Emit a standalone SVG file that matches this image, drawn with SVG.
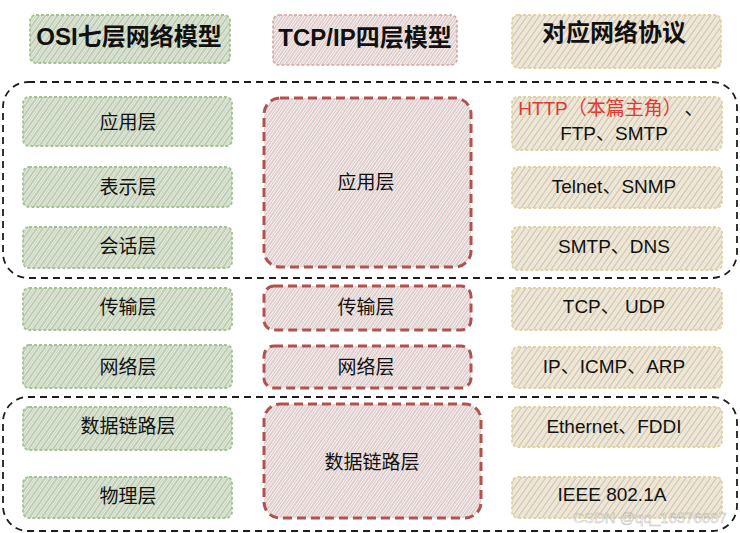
<svg xmlns="http://www.w3.org/2000/svg" width="740" height="533" viewBox="0 0 740 533">
<defs>
<pattern id="hg" patternUnits="userSpaceOnUse" width="5" height="10" patternTransform="rotate(35)">
<rect width="5" height="10" fill="#e5eddc"/>
<line x1="1" y1="0" x2="1" y2="10" stroke="#9ea898" stroke-width="1"/>
<line x1="3.5" y1="0" x2="3.5" y2="10" stroke="#bdd2ad" stroke-width="0.8"/>
</pattern>
<pattern id="hr" patternUnits="userSpaceOnUse" width="5" height="10" patternTransform="rotate(35)">
<rect width="5" height="10" fill="#fbf4f3"/>
<line x1="1" y1="0" x2="1" y2="10" stroke="#b2adad" stroke-width="1"/>
<line x1="3.5" y1="0" x2="3.5" y2="10" stroke="#e0aeac" stroke-width="0.8"/>
</pattern>
<pattern id="hy" patternUnits="userSpaceOnUse" width="5" height="10" patternTransform="rotate(35)">
<rect width="5" height="10" fill="#f7f1e3"/>
<line x1="1" y1="0" x2="1" y2="10" stroke="#b6ae9f" stroke-width="1"/>
<line x1="3.5" y1="0" x2="3.5" y2="10" stroke="#e6d9b6" stroke-width="0.8"/>
</pattern>
</defs>
<style>
.g{fill:url(#hg);stroke:#a3c391;stroke-width:1.8;stroke-dasharray:3 2}
.r{fill:url(#hr);stroke:#b0524f;stroke-width:3;stroke-dasharray:9 5}
.y{fill:url(#hy);stroke:#e0d3a2;stroke-width:1.8;stroke-dasharray:3 2}
.c{fill:none;stroke:#1e1e1e;stroke-width:1.8;stroke-dasharray:7 5}
text{font-family:"Liberation Sans","Noto Sans CJK SC",sans-serif;text-anchor:middle;dominant-baseline:central;fill:#111}
.h{font-size:24px;font-weight:bold}
.t{font-size:19px}
.red{fill:#e0392f}
.wm{font-size:15px;fill:#ffffff;fill-opacity:0.6;stroke:#888;stroke-width:0.5;stroke-opacity:0.6}
</style>
<g id="containers">
<rect class="c" x="3" y="82" width="734" height="196" rx="25"/>
<rect class="c" x="3" y="397" width="734" height="134" rx="25"/>
</g>
<g id="hdr-osi"><rect class="g" x="30" y="15" width="200" height="48" rx="6"/><text class="h" x="129" y="36">OSI七层网络模型</text></g>
<g id="hdr-tcp"><rect class="r" x="273" y="15" width="184" height="50" rx="6" style="stroke:#d9a3a0;stroke-width:1.6;stroke-dasharray:3 2"/><text class="h" x="365" y="37">TCP/IP四层模型</text></g>
<g id="hdr-proto"><rect class="y" x="512" y="15" width="209" height="53" rx="6"/><text class="h" x="614" y="32">对应网络协议</text></g>

<g id="osi-app"><rect class="g" x="23" y="97" width="209" height="49" rx="6"/><text class="t" x="128" y="122">应用层</text></g>
<g id="osi-pres"><rect class="g" x="23" y="167" width="209" height="40" rx="6"/><text class="t" x="128" y="187">表示层</text></g>
<g id="osi-sess"><rect class="g" x="23" y="227" width="209" height="41" rx="6"/><text class="t" x="128" y="246">会话层</text></g>
<g id="osi-trans"><rect class="g" x="23" y="288" width="209" height="42" rx="6"/><text class="t" x="128" y="307">传输层</text></g>
<g id="osi-net"><rect class="g" x="23" y="345" width="209" height="43" rx="6"/><text class="t" x="128" y="367">网络层</text></g>
<g id="osi-link"><rect class="g" x="23" y="407" width="209" height="43" rx="6"/><text class="t" x="128" y="426">数据链路层</text></g>
<g id="osi-phys"><rect class="g" x="23" y="477" width="209" height="41" rx="6"/><text class="t" x="128" y="496">物理层</text></g>

<g id="tcp-app"><rect class="r" x="264" y="98" width="207" height="169" rx="16"/><text class="t" x="366" y="182">应用层</text></g>
<g id="tcp-trans"><rect class="r" x="264" y="286" width="207" height="44" rx="10"/><text class="t" x="366" y="307">传输层</text></g>
<g id="tcp-net"><rect class="r" x="264" y="346" width="207" height="42" rx="10"/><text class="t" x="366" y="367">网络层</text></g>
<g id="tcp-link"><rect class="r" x="264" y="404" width="217" height="114" rx="16"/><text class="t" x="372" y="462">数据链路层</text></g>

<g id="p-app1"><rect class="y" x="512" y="97" width="210" height="53" rx="6"/><text class="t red" x="600" y="108">HTTP（本篇主角）</text><text class="t" x="694" y="108">、</text><text class="t" x="614" y="133">FTP、SMTP</text></g>
<g id="p-app2"><rect class="y" x="512" y="167" width="210" height="41" rx="6"/><text class="t" x="614" y="186">Telnet、SNMP</text></g>
<g id="p-app3"><rect class="y" x="512" y="227" width="210" height="43" rx="6"/><text class="t" x="614" y="246">SMTP、DNS</text></g>
<g id="p-trans"><rect class="y" x="512" y="288" width="210" height="42" rx="6"/><text class="t" x="614" y="306">TCP、 UDP</text></g>
<g id="p-net"><rect class="y" x="512" y="347" width="210" height="41" rx="6"/><text class="t" x="614" y="366">IP、ICMP、ARP</text></g>
<g id="p-link1"><rect class="y" x="512" y="407" width="210" height="40" rx="6"/><text class="t" x="614" y="426">Ethernet、FDDI</text></g>
<g id="p-link2"><rect class="y" x="512" y="477" width="210" height="41" rx="6"/><text class="t" x="612" y="494">IEEE 802.1A</text></g>
<text class="wm" x="650" y="517">CSDN @qq_16576607</text>
</svg>
